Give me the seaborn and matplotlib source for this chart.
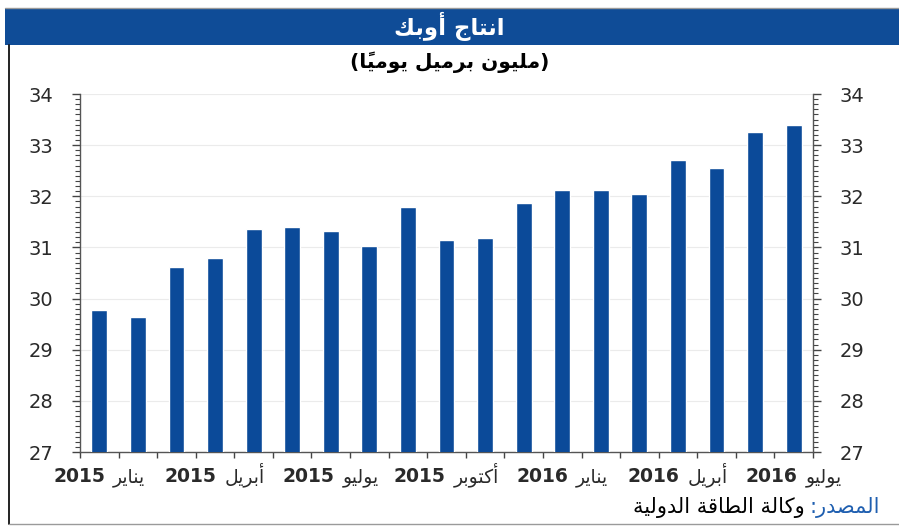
import numpy as np
import pandas as pd
import matplotlib
matplotlib.use("Agg")
import matplotlib.pyplot as plt
import seaborn as sns
from matplotlib.ticker import MultipleLocator, FixedLocator
from matplotlib.patches import Rectangle
from matplotlib.lines import Line2D

# ---------------- data ----------------
months = ["يناير", "فبراير", "مارس", "أبريل", "مايو", "يونيو", "يوليو", "أغسطس",
          "سبتمبر", "أكتوبر", "نوفمبر", "ديسمبر",
          "يناير", "فبراير", "مارس", "أبريل", "مايو", "يونيو", "يوليو"]
years = ["2015"] * 12 + ["2016"] * 7
production = [29.77, 29.63, 30.61, 30.80, 31.36, 31.39, 31.32, 31.03, 31.80,
              31.15, 31.19, 31.86, 32.13, 32.12, 32.05, 32.71, 32.56, 33.25, 33.40]
tick_every = 3
title_text = "انتاج أوبك"
subtitle_text = "مليون برميل يومياً"
source_label = "المصدر"
source_text = "وكالة الطاقة الدولية"
y_ticks = [27, 28, 29, 30, 31, 32, 33, 34]

# ------------- minimal Arabic shaping (presentation forms + RTL) -------------
FORMS = {
    "\u0622": ("\uFE81", "\uFE82"), "\u0623": ("\uFE83", "\uFE84"),
    "\u0625": ("\uFE87", "\uFE88"), "\u0627": ("\uFE8D", "\uFE8E"),
    "\u0628": ("\uFE8F", "\uFE90", "\uFE91", "\uFE92"),
    "\u0629": ("\uFE93", "\uFE94"),
    "\u062A": ("\uFE95", "\uFE96", "\uFE97", "\uFE98"),
    "\u062C": ("\uFE9D", "\uFE9E", "\uFE9F", "\uFEA0"),
    "\u062D": ("\uFEA1", "\uFEA2", "\uFEA3", "\uFEA4"),
    "\u062F": ("\uFEA9", "\uFEAA"),
    "\u0631": ("\uFEAD", "\uFEAE"), "\u0632": ("\uFEAF", "\uFEB0"),
    "\u0633": ("\uFEB1", "\uFEB2", "\uFEB3", "\uFEB4"),
    "\u0635": ("\uFEB9", "\uFEBA", "\uFEBB", "\uFEBC"),
    "\u0637": ("\uFEC1", "\uFEC2", "\uFEC3", "\uFEC4"),
    "\u0639": ("\uFEC9", "\uFECA", "\uFECB", "\uFECC"),
    "\u063A": ("\uFECD", "\uFECE", "\uFECF", "\uFED0"),
    "\u0641": ("\uFED1", "\uFED2", "\uFED3", "\uFED4"),
    "\u0642": ("\uFED5", "\uFED6", "\uFED7", "\uFED8"),
    "\u0643": ("\uFED9", "\uFEDA", "\uFEDB", "\uFEDC"),
    "\u0644": ("\uFEDD", "\uFEDE", "\uFEDF", "\uFEE0"),
    "\u0645": ("\uFEE1", "\uFEE2", "\uFEE3", "\uFEE4"),
    "\u0646": ("\uFEE5", "\uFEE6", "\uFEE7", "\uFEE8"),
    "\u0647": ("\uFEE9", "\uFEEA", "\uFEEB", "\uFEEC"),
    "\u0648": ("\uFEED", "\uFEEE"),
    "\u064A": ("\uFEF1", "\uFEF2", "\uFEF3", "\uFEF4"),
}


def is_mark(c):
    return "\u064B" <= c <= "\u065F" or c == "\u0670"


def shape(text):
    chars = list(text)
    n = len(chars)

    def neighbor(i, step):
        j = i + step
        while 0 <= j < n and is_mark(chars[j]):
            j += step
        return chars[j] if 0 <= j < n else None

    glyphs = []
    for i, c in enumerate(chars):
        if c in FORMS:
            f = FORMS[c]
            p, nx = neighbor(i, -1), neighbor(i, 1)
            jp = p is not None and p in FORMS and len(FORMS[p]) == 4
            jn = len(f) == 4 and nx is not None and nx in FORMS
            if jp and jn:
                g = f[3]
            elif jp:
                g = f[1]
            elif jn:
                g = f[2]
            else:
                g = f[0]
            glyphs.append(g)
        else:
            glyphs.append(c)
    clusters = []
    for g, c in zip(glyphs, chars):
        if is_mark(c) and clusters:
            clusters[-1] += g
        else:
            clusters.append(g)
    return "".join(reversed(clusters))


# ---------------- style ----------------
sns.set_style("white")
plt.rcParams["font.family"] = ["DejaVu Sans"]

BAR = "#0b4a99"
BAND = "#0f4c97"
TXT = "#2a2a2a"

W, H = 899, 527
fig = plt.figure(figsize=(W / 100, H / 100), dpi=100)
fig.patch.set_facecolor("white")

# header band
fig.add_artist(Rectangle((5 / W, 1 - 45 / H), 1 - 5 / W, 37 / H,
                         transform=fig.transFigure, color=BAND, lw=0, zorder=0))
fig.add_artist(Line2D([5 / W, 1], [1 - 7.5 / H, 1 - 7.5 / H], transform=fig.transFigure,
                      color="#9a9a9a", lw=1))
# frame lines
fig.add_artist(Line2D([8.5 / W, 8.5 / W], [1 - 45 / H, 1 - 524 / H], transform=fig.transFigure,
                      color="#111111", lw=1.3))
fig.add_artist(Line2D([8.5 / W, 1], [1 - 524 / H, 1 - 524 / H], transform=fig.transFigure,
                      color="#9a9a9a", lw=1))

fig.text(0.5, 1 - 26 / H, shape(title_text), color="white", fontsize=16.5, fontweight="bold",
         ha="center", va="center")
fig.text(0.5, 1 - 62 / H, "(" + shape(subtitle_text) + ")", color="black", fontsize=14.5,
         fontweight="bold", ha="center", va="center")

ax = fig.add_axes([80 / W, 1 - 452 / H, (813 - 80) / W, (452 - 94) / H])
df = pd.DataFrame({"idx": [str(i) for i in range(len(production))], "value": production})
sns.barplot(data=df, x="idx", y="value", color=BAR, saturation=1, width=0.41, ax=ax,
            zorder=3)

ax.set_xlim(-0.5, len(production) - 0.5)
ax.set_ylim(y_ticks[0], y_ticks[-1])
ax.set_xlabel("")
ax.set_ylabel("")
ax.yaxis.set_major_locator(FixedLocator(y_ticks))
ax.yaxis.set_minor_locator(MultipleLocator(0.1))
ax.tick_params(axis="y", which="both", left=True, right=True, labelleft=True,
               labelright=True, direction="out", colors="#444444", labelcolor=TXT,
               labelsize=14)
ax.tick_params(axis="y", which="major", length=6, width=1, pad=13)
ax.tick_params(axis="y", which="minor", length=3.5, width=0.8)

pos = list(range(0, len(production), tick_every))
ax.set_xticks(pos)
ax.set_xticklabels([""] * len(pos))
ax.xaxis.set_minor_locator(FixedLocator(np.arange(-0.5, len(production), 1.0)))
ax.tick_params(axis="x", which="major", length=0)
ax.tick_params(axis="x", which="minor", bottom=True, length=4, width=1, color="#444444")

for s in ["left", "right", "bottom"]:
    ax.spines[s].set_visible(True)
    ax.spines[s].set_color("#555555")
    ax.spines[s].set_linewidth(1)
ax.spines["top"].set_visible(False)
ax.yaxis.grid(True, color="#ebebeb", lw=0.8, zorder=0)
ax.set_axisbelow(True)

fig.canvas.draw()
r = fig.canvas.get_renderer()
inv = fig.transFigure.inverted()

# x labels: bold year + regular month, visually "year month", baseline-aligned
y_lab = 1 - 482 / H
gap = 8
for i in pos:
    xd = ax.transData.transform((i, 0))[0]
    ty = fig.text(0, y_lab, years[i], fontsize=13.5, fontweight="bold", color=TXT,
                  ha="left", va="baseline")
    tm = fig.text(0, y_lab, shape(months[i]), fontsize=13.5, color=TXT,
                  ha="left", va="baseline")
    wy = ty.get_window_extent(renderer=r).width
    wm = tm.get_window_extent(renderer=r).width
    x0 = xd - (wy + gap + wm) / 2
    ty.set_x(inv.transform((x0, 0))[0])
    tm.set_x(inv.transform((x0 + wy + gap, 0))[0])

# source line (blue label on the right, rest to its left)
t1 = fig.text(880 / W, 1 - 507 / H, ":" + shape(source_label), color="#1f5fb0", fontsize=15,
              ha="right", va="center")
bb = t1.get_window_extent(renderer=r)
x_left = inv.transform((bb.x0, bb.y0))[0]
fig.text(x_left - 5 / W, 1 - 507 / H, shape(source_text), color="black", fontsize=15,
         ha="right", va="center")

fig.savefig("out.png", dpi=100)
